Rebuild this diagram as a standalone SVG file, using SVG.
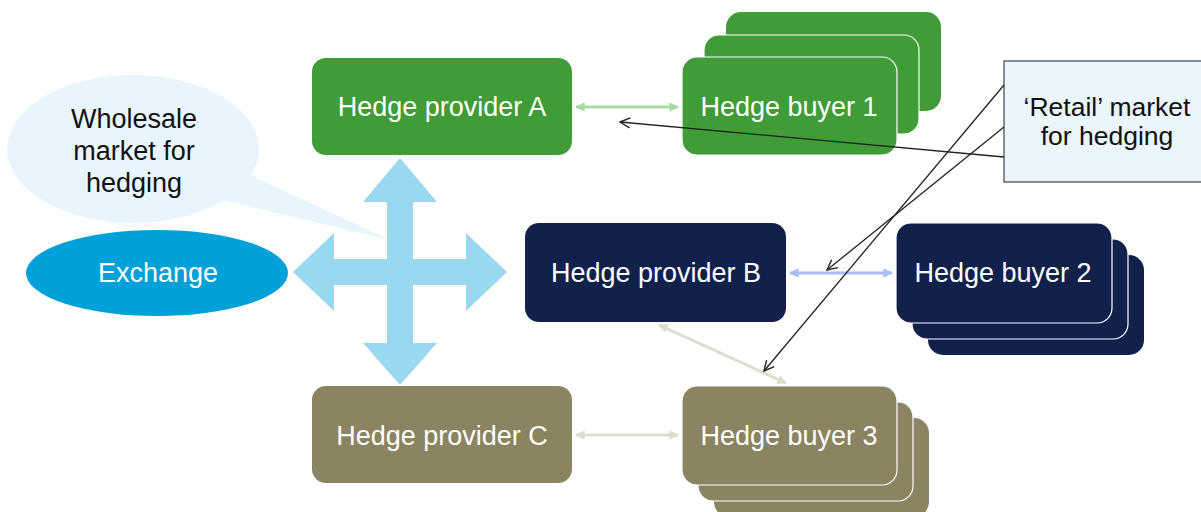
<svg xmlns="http://www.w3.org/2000/svg" width="1201" height="512" viewBox="0 0 1201 512">
  <style>
    .lbl { font-family: "Liberation Sans", Arial, sans-serif; font-size: 27px; text-anchor: middle; }
    .note { font-size: 26.5px; }
    .w { fill: #ffffff; }
    .k { fill: #111111; }
    .green { fill: #409c37; }
    .navy { fill: #12214b; }
    .olive { fill: #8b8460; }
    .edge { stroke: #ffffff; stroke-width: 1.2; }
    .link { fill: none; stroke-width: 3; }
    .pointer { fill: none; stroke: #222222; stroke-width: 1.3; marker-end: url(#open); }
  </style>
  <defs>
    <marker id="headG" viewBox="0 0 10 10" refX="9" refY="5" markerWidth="3.2" markerHeight="3.2" orient="auto-start-reverse" markerUnits="strokeWidth">
      <path d="M0,0 L10,5 L0,10 Z" fill="#a6dca0"/>
    </marker>
    <marker id="headB" viewBox="0 0 10 10" refX="9" refY="5" markerWidth="3.2" markerHeight="3.2" orient="auto-start-reverse" markerUnits="strokeWidth">
      <path d="M0,0 L10,5 L0,10 Z" fill="#a9bdf0"/>
    </marker>
    <marker id="headC" viewBox="0 0 10 10" refX="9" refY="5" markerWidth="3.2" markerHeight="3.2" orient="auto-start-reverse" markerUnits="strokeWidth">
      <path d="M0,0 L10,5 L0,10 Z" fill="#dddccf"/>
    </marker>
    <marker id="open" viewBox="0 0 12 12" refX="11" refY="6" markerWidth="12" markerHeight="12" orient="auto" markerUnits="userSpaceOnUse">
      <path d="M1,1 L11,6 L1,11" fill="none" stroke="#222222" stroke-width="1.4"/>
    </marker>
  </defs>

  <!-- speech bubble: wholesale market -->
  <g id="wholesale">
    <ellipse cx="133" cy="149" rx="126" ry="74" fill="#e9f5fc"/>
    <polygon points="244,172 222,200 390,240" fill="#e9f5fc"/>
    <text class="lbl k" x="134" y="128">Wholesale</text>
    <text class="lbl k" x="134" y="160">market for</text>
    <text class="lbl k" x="134" y="192">hedging</text>
  </g>

  <!-- exchange -->
  <g id="exchange">
    <ellipse cx="157" cy="273" rx="131" ry="43" fill="#00a0d8"/>
    <text class="lbl w" x="158" y="282">Exchange</text>
  </g>

  <!-- four-way arrow -->
  <g id="crossArrow">
    <polygon fill="#9ad8ef" points="400,158 437,202 413,202 413,259 466,259 466,233 507,272 466,311 466,285 413,285 413,343 437,343 400,385 363,343 387,343 387,285 334,285 334,311 293,272 334,233 334,259 387,259 387,202 363,202"/>
  </g>

  <!-- hedge providers -->
  <g id="providerA">
    <rect class="green" x="312" y="58" width="260" height="97" rx="14"/>
    <text class="lbl w" x="442" y="116">Hedge provider A</text>
  </g>
  <g id="providerB">
    <rect class="navy" x="525" y="223" width="261" height="99" rx="14"/>
    <text class="lbl w" x="656" y="282">Hedge provider B</text>
  </g>
  <g id="providerC">
    <rect class="olive" x="312" y="386" width="260" height="97" rx="14"/>
    <text class="lbl w" x="442" y="445">Hedge provider C</text>
  </g>

  <!-- hedge buyers (stacked cards) -->
  <g id="buyer1">
    <rect class="green" x="726" y="12" width="215" height="99" rx="15"/>
    <rect class="green edge" x="704" y="35" width="215" height="99" rx="15"/>
    <rect class="green edge" x="682" y="57" width="215" height="98" rx="15"/>
    <text class="lbl w" x="789" y="116">Hedge buyer 1</text>
  </g>
  <g id="buyer2">
    <rect class="navy" x="928" y="255" width="216" height="100" rx="15"/>
    <rect class="navy edge" x="912" y="239" width="216" height="100" rx="15"/>
    <rect class="navy edge" x="896" y="223" width="216" height="100" rx="15"/>
    <text class="lbl w" x="1003" y="282">Hedge buyer 2</text>
  </g>
  <g id="buyer3">
    <rect class="olive" x="714" y="418" width="215" height="99" rx="15"/>
    <rect class="olive edge" x="698" y="402" width="215" height="99" rx="15"/>
    <rect class="olive edge" x="682" y="386" width="215" height="99" rx="15"/>
    <text class="lbl w" x="789" y="445">Hedge buyer 3</text>
  </g>

  <!-- retail market label -->
  <g id="retail">
    <rect x="1004" y="61" width="200" height="121" fill="#eaf5fc" stroke="#444444" stroke-width="1.2"/>
    <text class="lbl note k" x="1107" y="116">‘Retail’ market</text>
    <text class="lbl note k" x="1107" y="145">for hedging</text>
  </g>

  <!-- connectors -->
  <g id="connectors">
    <line class="link" x1="576" y1="107" x2="678" y2="107" stroke="#a6dca0" marker-start="url(#headG)" marker-end="url(#headG)"/>
    <line class="link" x1="790" y1="273" x2="892" y2="273" stroke="#a9bdf0" marker-start="url(#headB)" marker-end="url(#headB)"/>
    <line class="link" x1="576" y1="435" x2="678" y2="435" stroke="#dddccf" marker-start="url(#headC)" marker-end="url(#headC)"/>
    <line class="link" x1="659" y1="325" x2="786" y2="383" stroke="#dddccf" marker-start="url(#headC)" marker-end="url(#headC)"/>
    <line class="pointer" x1="1004" y1="157" x2="620" y2="122"/>
    <line class="pointer" x1="1004" y1="127" x2="827" y2="270"/>
    <line class="pointer" x1="1004" y1="85" x2="764" y2="371"/>
  </g>
</svg>
